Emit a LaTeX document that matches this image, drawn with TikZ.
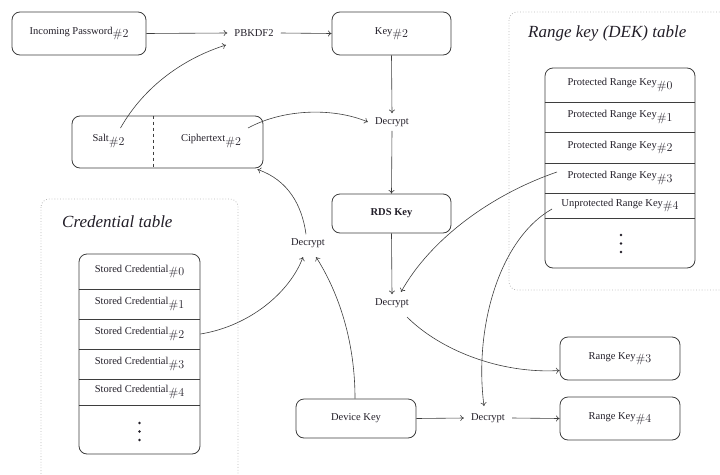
\documentclass[tikz,border=0pt]{standalone}
\usepackage[no-math]{fontspec}
\setmainfont{Liberation Serif}
\usetikzlibrary{calc,arrows.meta}

% index set as a lowered "#n"
\newcommand\idx[1]{\raisebox{-3.5pt}{\fontsize{13}{13}\selectfont$\##1$}}

\definecolor{linec}{RGB}{62,62,62}
\definecolor{panelc}{RGB}{185,185,185}
\definecolor{textc}{RGB}{34,30,40}

\tikzset{
  txt/.style={text=textc, font=\fontsize{10.5}{12}\selectfont},
  box/.style={txt, draw=linec, line width=0.8pt, rounded corners=8pt, inner sep=0pt},
  op/.style={txt, inner xsep=7pt, inner ysep=4pt},
  lbl/.style={txt, inner sep=2pt},
  rule/.style={draw=linec, line width=0.8pt},
  arr/.style={draw=linec, line width=0.6pt, -{To[length=3.6pt,width=6pt]}},
  panel/.style={draw=panelc, dotted, line width=0.8pt, rounded corners=8pt},
  ttl/.style={text=textc, font=\fontsize{17}{19}\selectfont\itshape, inner sep=0pt, anchor=west},
  dot/.style={circle, fill=textc, inner sep=0pt, minimum size=2.6pt},
}

\begin{document}
\begin{tikzpicture}[x=1pt, y=-1pt]
\path[use as bounding box] (0,0) rectangle (720,474);
\clip (0,0) rectangle (720,474);

% dotted table panels
\draw[panel] (41,199) rectangle (238,500);
\draw[panel] (509,12) rectangle (760,290);
\node[ttl] (ctitle) at (62,222) {Credential table};
\node[ttl] (rtitle) at (528,33) {Range key (DEK) table};

% key derivation chain
\node[box, minimum width=134pt, minimum height=43pt] (inpw) at (79,33.5) {Incoming Password\idx{2}};
\node[op] (pbk) at (254,33) {PBKDF2};
\node[box, minimum width=119pt, minimum height=43pt] (key) at (391.5,33.5) {Key\idx{2}};
\node[op] (d1) at (392,122) {Decrypt};
\node[box, minimum width=119pt, minimum height=39pt, font=\fontsize{10.5}{12}\selectfont\bfseries] (rds) at (391.5,213.5) {RDS Key};
\node[op] (d3) at (392,303) {Decrypt};

% salt / ciphertext record
\node[box, minimum width=191pt, minimum height=52pt] (sc) at (167.5,142) {};
\coordinate (div) at (153,142);
\draw[rule, dashed] (div |- sc.north) -- (div |- sc.south);
\node[lbl] (salt) at (108.5,141) {Salt\idx{2}};
\node[lbl] (ciph) at (211,141) {Ciphertext\idx{2}};

% credential table
\node[box, minimum width=121pt, minimum height=200pt] (ctab) at (139.5,354) {};
\foreach \yy in {289,319,349,379,405}
  \draw[rule] (ctab.west |- 0,\yy) -- (ctab.east |- 0,\yy);
\node[lbl] (c0) at (139.5,271.5) {Stored Credential\idx{0}};
\node[lbl] (c1) at (139.5,304) {Stored Credential\idx{1}};
\node[lbl] (c2) at (139.5,334) {Stored Credential\idx{2}};
\node[lbl] (c3) at (139.5,364) {Stored Credential\idx{3}};
\node[lbl] (c4) at (139.5,392) {Stored Credential\idx{4}};
\foreach \yy [count=\i] in {423,431.5,440}
  \node[dot] (cdot\i) at (139.5,\yy) {};

% range key table
\node[box, minimum width=150pt, minimum height=200pt] (rtab) at (620,168) {};
\foreach \yy in {102,132,163,193,218}
  \draw[rule] (rtab.west |- 0,\yy) -- (rtab.east |- 0,\yy);
\node[lbl] (p0) at (620,85) {Protected Range Key\idx{0}};
\node[lbl] (p1) at (620,117) {Protected Range Key\idx{1}};
\node[lbl] (p2) at (620,147.5) {Protected Range Key\idx{2}};
\node[lbl] (p3) at (620,178) {Protected Range Key\idx{3}};
\node[lbl] (u4) at (620,205.5) {Unprotected Range Key\idx{4}};
\foreach \yy [count=\i] in {235,243.5,252}
  \node[dot] (rdot\i) at (621,\yy) {};

% device key path and results
\node[op] (d2) at (308,243) {Decrypt};
\node[box, minimum width=120pt, minimum height=39pt] (dev) at (356,418.5) {Device Key};
\node[op] (d4) at (488,418) {Decrypt};
\node[box, minimum width=120pt, minimum height=43pt] (r3) at (620,358.5) {Range Key\idx{3}};
\node[box, minimum width=120pt, minimum height=43pt] (r4) at (620,418.5) {Range Key\idx{4}};

% straight connectors
\draw[arr] (inpw.east) -- (pbk.west);
\draw[arr] (pbk.east) -- (key.west);
\draw[arr] (key.south) -- (d1.north);
\draw[arr] (d1.south) -- (rds.north);
\draw[arr] (rds.south) -- (d3.north);
\draw[arr] (dev.east) -- (d4.west);
\draw[arr] (d4.east) -- (r4.west);

% curved connectors
\draw[arr] ([shift={(12,-13)}]salt.center) .. controls (145,85) and (185,58) .. ([shift={(-28,12)}]pbk.center);
\draw[arr] ([shift={(37,-13)}]ciph.center) .. controls (285,108) and (335,108) .. (d1.west);
\draw[arr] ([xshift=-2pt]d2.north) .. controls (302,205) and (288,180) .. ([shift={(-6,1)}]sc.south east);
\draw[arr] (ctab.east |- c2) .. controls (250,326) and (290,292) .. ([shift={(-5,14)}]d2.center);
\draw[arr] ([xshift=-1pt]dev.north) .. controls (355,330) and (332,282) .. ([shift={(8,14)}]d2.center);
\draw[arr] ([shift={(15,14)}]d3.center) .. controls (440,350) and (500,374) .. ([shift={(0,12)}]r3.west);
\draw[arr] ([shift={(-63,-6)}]p3.center) .. controls (490,195) and (430,240) .. ([shift={(9,-11)}]d3.center);
\draw[arr] ([shift={(-68,3.5)}]u4.center) .. controls (498,240) and (474,330) .. ([shift={(-4,-12)}]d4.center);
\end{tikzpicture}
\end{document}
